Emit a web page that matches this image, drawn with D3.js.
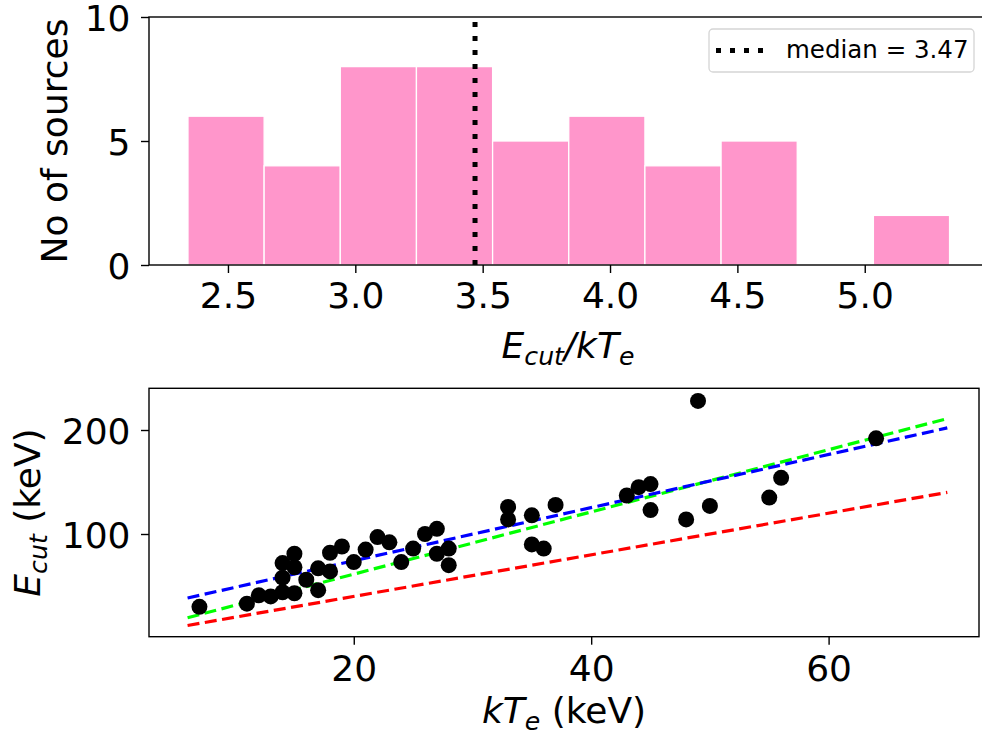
<!DOCTYPE html>
<html>
<head>
<meta charset="utf-8">
<script src="https://cdn.jsdelivr.net/npm/d3@7"></script>
<style>
  body { margin: 0; background: #fff; }
  svg text { font-family: "DejaVu Sans", sans-serif; }
</style>
</head>
<body>
<div id="chart"></div>
<script>
// top panel: histogram of Ecut/kTe
var binEdges = [2.343, 2.642, 2.941, 3.240, 3.539, 3.838, 4.137, 4.436, 4.735, 5.034, 5.333];
var binCounts = [6, 4, 8, 8, 5, 6, 4, 5, 0, 2];
var medianRatio = 3.47;
var histXTicks = [2.5, 3.0, 3.5, 4.0, 4.5, 5.0];
var histYTicks = [0, 5, 10];

// bottom panel: kTe vs Ecut
var kTe  = [7, 11, 12, 13, 14, 15, 14, 15, 15, 14, 16, 17, 17, 18, 18, 19, 20, 21, 22, 23, 24, 25, 26, 27, 27, 28, 28,
            33, 33, 35, 35, 36, 37, 43, 44, 45, 45, 48, 49, 50, 55, 56, 64];
var eCut = [30, 33, 41, 40, 44, 43, 72, 81, 68, 58, 56, 67, 46, 82, 64, 88, 73, 85, 97, 92, 73, 86, 100, 105, 81, 86, 70,
            126, 114, 118, 90, 86, 128, 137, 145, 148, 123, 114, 228, 127, 135, 154, 192];
var lineKT    = [6, 70];
var redLine   = [12, 140];
var greenLine = [19.5, 211];
var blueLine  = [38.5, 202];
var scatXTicks = [20, 40, 60];
var scatYTicks = [100, 200];

var W = 982, H = 740;
var svg = d3.select("#chart").append("svg")
    .attr("width", W).attr("height", H);

var fs = 36;

// ---------- histogram ----------
var hx = d3.scaleLinear().domain([2.19, 5.48]).range([149, 987]);
var hy = d3.scaleLinear().domain([0, 10]).range([265, 17]);

var bars = binCounts.map(function(c, i) { return {x0: binEdges[i], x1: binEdges[i + 1], n: c}; })
    .filter(function(d) { return d.n > 0; });

svg.append("g").selectAll("rect")
    .data(bars)
    .enter().append("rect")
        .attr("x", function(d) { return hx(d.x0); })
        .attr("width", function(d) { return hx(d.x1) - hx(d.x0); })
        .attr("y", function(d) { return hy(d.n); })
        .attr("height", function(d) { return hy(0) - hy(d.n); })
        .attr("fill", "#ff96cb")
        .attr("stroke", "#fff")
        .attr("stroke-width", 1.3);

// median line, drawn bottom->top like matplotlib
svg.append("line")
    .attr("x1", hx(medianRatio)).attr("x2", hx(medianRatio))
    .attr("y1", hy(0)).attr("y2", hy(10))
    .attr("stroke", "#000").attr("stroke-width", 5)
    .attr("stroke-dasharray", "5 9");

svg.append("g")
    .attr("transform", "translate(0," + hy(0) + ")")
    .call(d3.axisBottom(hx).tickValues(histXTicks).tickFormat(d3.format(".1f")).tickSize(8).tickSizeOuter(0).tickPadding(9.5))
    .call(styleAxis);

svg.append("g")
    .attr("transform", "translate(" + hx.range()[0] + ",0)")
    .call(d3.axisLeft(hy).tickValues(histYTicks).tickSize(8).tickSizeOuter(0).tickPadding(10.5))
    .call(styleAxis);

spines(hx.range(), hy.range());

// legend
var lg = svg.append("g");
lg.append("rect")
    .attr("x", 709).attr("y", 29).attr("width", 265).attr("height", 43).attr("rx", 4)
    .attr("fill", "#fff").attr("fill-opacity", 0.8)
    .attr("stroke", "#d5d5d5").attr("stroke-width", 1.3);
lg.append("line")
    .attr("x1", 716).attr("x2", 766).attr("y1", 50.5).attr("y2", 50.5)
    .attr("stroke", "#000").attr("stroke-width", 5).attr("stroke-dasharray", "5 9");
lg.append("text")
    .attr("x", 786).attr("y", 57.5)
    .attr("font-size", 24.5)
    .text("median = " + medianRatio);

// axis labels
svg.append("text")
    .attr("transform", "translate(67," + (hy.range()[0] + hy.range()[1]) / 2 + ") rotate(-90)")
    .attr("text-anchor", "middle")
    .attr("font-size", fs)
    .text("No of sources");

var xl = svg.append("text")
    .attr("x", 568).attr("y", 358)
    .attr("text-anchor", "middle")
    .attr("font-size", fs)
    .attr("font-style", "italic");
xl.append("tspan").text("E");
xl.append("tspan").attr("font-size", fs * 0.7).attr("dy", 7).text("cut");
xl.append("tspan").attr("dy", -7).text("/kT");
xl.append("tspan").attr("font-size", fs * 0.7).attr("dy", 7).text("e");

// ---------- scatter ----------
var sx = d3.scaleLinear().domain([2.75, 72.67]).range([149, 979]);
var sy = d3.scaleLinear().domain([1.25, 240.1]).range([636.7, 388.3]);

var line = d3.line()
    .x(function(d) { return sx(d[0]); })
    .y(function(d) { return sy(d[1]); });

var fits = [
    {vals: redLine, color: "#ff0000"},
    {vals: greenLine, color: "#00ff00"},
    {vals: blueLine, color: "#0000ff"}
];

svg.append("g").selectAll("path")
    .data(fits)
    .enter().append("path")
        .attr("d", function(f) { return line(lineKT.map(function(k, i) { return [k, f.vals[i]]; })); })
        .attr("fill", "none")
        .attr("stroke", function(f) { return f.color; })
        .attr("stroke-width", 3.2)
        .attr("stroke-dasharray", "12 5.5");

svg.append("g").selectAll("circle")
    .data(kTe.map(function(k, i) { return [k, eCut[i]]; }))
    .enter().append("circle")
        .attr("cx", function(d) { return sx(d[0]); })
        .attr("cy", function(d) { return sy(d[1]); })
        .attr("r", 8)
        .attr("fill", "#000");

svg.append("g")
    .attr("transform", "translate(0," + sy.range()[0] + ")")
    .call(d3.axisBottom(sx).tickValues(scatXTicks).tickSize(8).tickSizeOuter(0).tickPadding(11))
    .call(styleAxis);

svg.append("g")
    .attr("transform", "translate(" + sx.range()[0] + ",0)")
    .call(d3.axisLeft(sy).tickValues(scatYTicks).tickSize(8).tickSizeOuter(0).tickPadding(10.5))
    .call(styleAxis);

spines(sx.range(), sy.range());

var yl = svg.append("text")
    .attr("transform", "translate(40," + (sy.range()[0] + sy.range()[1]) / 2 + ") rotate(-90)")
    .attr("text-anchor", "middle")
    .attr("font-size", fs);
yl.append("tspan").attr("font-style", "italic").text("E");
yl.append("tspan").attr("font-style", "italic").attr("font-size", fs * 0.7).attr("dy", 7).text("cut");
yl.append("tspan").attr("dy", -7).text(" (keV)");

var xl2 = svg.append("text")
    .attr("x", 564).attr("y", 722.5)
    .attr("text-anchor", "middle")
    .attr("font-size", fs);
xl2.append("tspan").attr("font-style", "italic").text("kT");
xl2.append("tspan").attr("font-style", "italic").attr("font-size", fs * 0.7).attr("dy", 7).text("e");
xl2.append("tspan").attr("dy", -7).text(" (keV)");

function styleAxis(g) {
    g.select(".domain").remove();
    g.selectAll(".tick line").attr("stroke", "#000").attr("stroke-width", 1.4);
    g.selectAll(".tick text")
        .attr("font-size", fs)
        .attr("font-family", "DejaVu Sans")
        .attr("fill", "#000");
    if (g.selectAll(".tick text").attr("x") < 0) g.selectAll(".tick text").attr("dy", "0.364em");
}

function spines(xr, yr) {
    svg.append("rect")
        .attr("x", xr[0]).attr("y", yr[1])
        .attr("width", xr[1] - xr[0]).attr("height", yr[0] - yr[1])
        .attr("fill", "none")
        .attr("stroke", "#000").attr("stroke-width", 1.4);
}
</script>
</body>
</html>
